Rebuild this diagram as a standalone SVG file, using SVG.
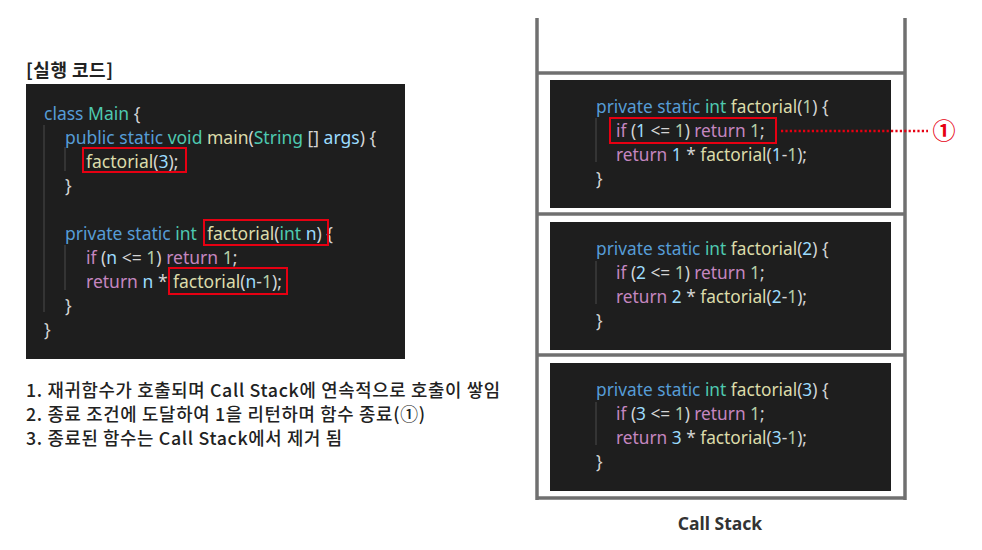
<svg xmlns="http://www.w3.org/2000/svg" width="982" height="550" viewBox="0 0 982 550">
<style>
.code{font-family:"Noto Sans","DejaVu Sans",sans-serif;font-size:17.5px;fill:#d4d4d4}
.fr{font-size:17.3px}
.k{fill:#569cd6}.t{fill:#4ec9b0}.f{fill:#dcdcaa}.v{fill:#9cdcfe}.c{fill:#c586c0}.n{fill:#b5cea8}
.panel{fill:#1e1e1e}
.guide{stroke:#4a4a4a;stroke-width:1}
.hl{fill:none;stroke:#e60012;stroke-width:2}
.wall{stroke:#707070;stroke-width:3.5;fill:none}
.kr{font-family:"Noto Sans CJK KR","Noto Sans",sans-serif;fill:#222}
</style>
<rect width="982" height="550" fill="#ffffff"/>

<g id="title">
<text class="kr" x="26" y="77" font-size="18" font-weight="700" fill="#333" textLength="87">[실행 코드]</text>
</g>

<g id="code-panel">
<rect class="panel" x="26" y="84" width="379" height="275"/>
<line class="guide" x1="44" y1="125" x2="44" y2="312"/>
<line class="guide" x1="65" y1="147" x2="65" y2="171"/>
<line class="guide" x1="65" y1="245" x2="65" y2="290"/>
<text class="code" x="44" y="120"><tspan class="k">class</tspan> <tspan class="t">Main</tspan> {</text>
<text class="code" x="65" y="144"><tspan class="k">public static</tspan> <tspan class="t">void</tspan> <tspan class="f">main</tspan>(<tspan class="t">String</tspan> [] <tspan class="v">args</tspan>) {</text>
<text class="code" x="86" y="168"><tspan class="f">factorial</tspan>(<tspan class="v">3</tspan>);</text>
<text class="code" x="65" y="192">}</text>
<text class="code" x="65" y="240"><tspan class="k">private static</tspan> <tspan class="t">int</tspan> <tspan class="f" x="207">factorial</tspan>(<tspan class="t">int</tspan> <tspan class="v">n</tspan>) {</text>
<text class="code" x="86" y="264"><tspan class="c">if</tspan> (<tspan class="v">n</tspan> &lt;= <tspan class="n">1</tspan>) <tspan class="c">return</tspan> <tspan class="n">1</tspan>;</text>
<text class="code" x="86" y="288"><tspan class="c">return</tspan> <tspan class="v">n</tspan> * <tspan class="f" x="173">factorial</tspan>(<tspan class="v">n</tspan>-<tspan class="n">1</tspan>);</text>
<text class="code" x="65" y="312">}</text>
<text class="code" x="44" y="336">}</text>
<rect class="hl" x="83" y="148" width="103" height="24"/>
<rect class="hl" x="204" y="220" width="124" height="25"/>
<rect class="hl" x="169" y="268" width="118" height="26"/>
</g>

<g id="notes">
<text class="kr" x="26" y="397" font-size="17.8" font-weight="500" textLength="474">1. 재귀함수가 호출되며 Call Stack에 연속적으로 호출이 쌓임</text>
<text class="kr" x="26" y="421" font-size="17.8" font-weight="500" textLength="399">2. 종료 조건에 도달하여 1을 리턴하며 함수 종료(①)</text>
<text class="kr" x="26" y="445" font-size="17.8" font-weight="500" textLength="316">3. 종료된 함수는 Call Stack에서 제거 됨</text>
</g>

<g id="call-stack">
<line class="wall" x1="537" y1="18" x2="537" y2="500"/>
<line class="wall" x1="905" y1="18" x2="905" y2="500"/>
<line class="wall" x1="537" y1="73" x2="905" y2="73"/>
<line class="wall" x1="537" y1="214" x2="905" y2="214"/>
<line class="wall" x1="537" y1="355" x2="905" y2="355"/>
<line class="wall" x1="537" y1="498" x2="905" y2="498"/>
</g>

<g id="frame-1">
<rect class="panel" x="550" y="80" width="341" height="128"/>
<line class="guide" x1="596" y1="118" x2="596" y2="162"/>
<text class="code fr" x="596" y="113"><tspan class="k">private static</tspan> <tspan class="t">int</tspan> <tspan class="f">factorial</tspan>(<tspan class="n">1</tspan>) {</text>
<text class="code fr" x="616" y="137"><tspan class="c">if</tspan> (<tspan class="v">1</tspan> &lt;= <tspan class="n">1</tspan>) <tspan class="c">return</tspan> <tspan class="n">1</tspan>;</text>
<text class="code fr" x="616" y="161"><tspan class="c">return</tspan> <tspan class="v">1</tspan> * <tspan class="f">factorial</tspan>(<tspan class="v">1</tspan>-<tspan class="n">1</tspan>);</text>
<text class="code fr" x="596" y="185">}</text>
<rect class="hl" x="610" y="118" width="166" height="25"/>
</g>

<g id="frame-2">
<rect class="panel" x="550" y="222" width="341" height="128"/>
<line class="guide" x1="596" y1="261" x2="596" y2="304"/>
<text class="code fr" x="596" y="255"><tspan class="k">private static</tspan> <tspan class="t">int</tspan> <tspan class="f">factorial</tspan>(<tspan class="v">2</tspan>) {</text>
<text class="code fr" x="616" y="279"><tspan class="c">if</tspan> (<tspan class="v">2</tspan> &lt;= <tspan class="n">1</tspan>) <tspan class="c">return</tspan> <tspan class="n">1</tspan>;</text>
<text class="code fr" x="616" y="303"><tspan class="c">return</tspan> <tspan class="v">2</tspan> * <tspan class="f">factorial</tspan>(<tspan class="v">2</tspan>-<tspan class="n">1</tspan>);</text>
<text class="code fr" x="596" y="327">}</text>
</g>

<g id="frame-3">
<rect class="panel" x="550" y="363" width="341" height="128"/>
<line class="guide" x1="596" y1="402" x2="596" y2="445"/>
<text class="code fr" x="596" y="396"><tspan class="k">private static</tspan> <tspan class="t">int</tspan> <tspan class="f">factorial</tspan>(<tspan class="v">3</tspan>) {</text>
<text class="code fr" x="616" y="420"><tspan class="c">if</tspan> (<tspan class="v">3</tspan> &lt;= <tspan class="n">1</tspan>) <tspan class="c">return</tspan> <tspan class="n">1</tspan>;</text>
<text class="code fr" x="616" y="444"><tspan class="c">return</tspan> <tspan class="v">3</tspan> * <tspan class="f">factorial</tspan>(<tspan class="v">3</tspan>-<tspan class="n">1</tspan>);</text>
<text class="code fr" x="596" y="468">}</text>
</g>

<g id="connectors">
<line x1="781" y1="131" x2="928" y2="131" stroke="#e60012" stroke-width="2.5" stroke-dasharray="2.2 2.2"/>
</g>

<g id="marker-1">
<text x="944" y="139" font-family="Noto Sans CJK KR, sans-serif" font-size="23" font-weight="700" fill="#e60012" text-anchor="middle">①</text>
</g>

<g id="stack-label">
<text x="720" y="530" font-family="Noto Sans, sans-serif" font-size="17.5" font-weight="700" fill="#333" text-anchor="middle">Call Stack</text>
</g>
</svg>
